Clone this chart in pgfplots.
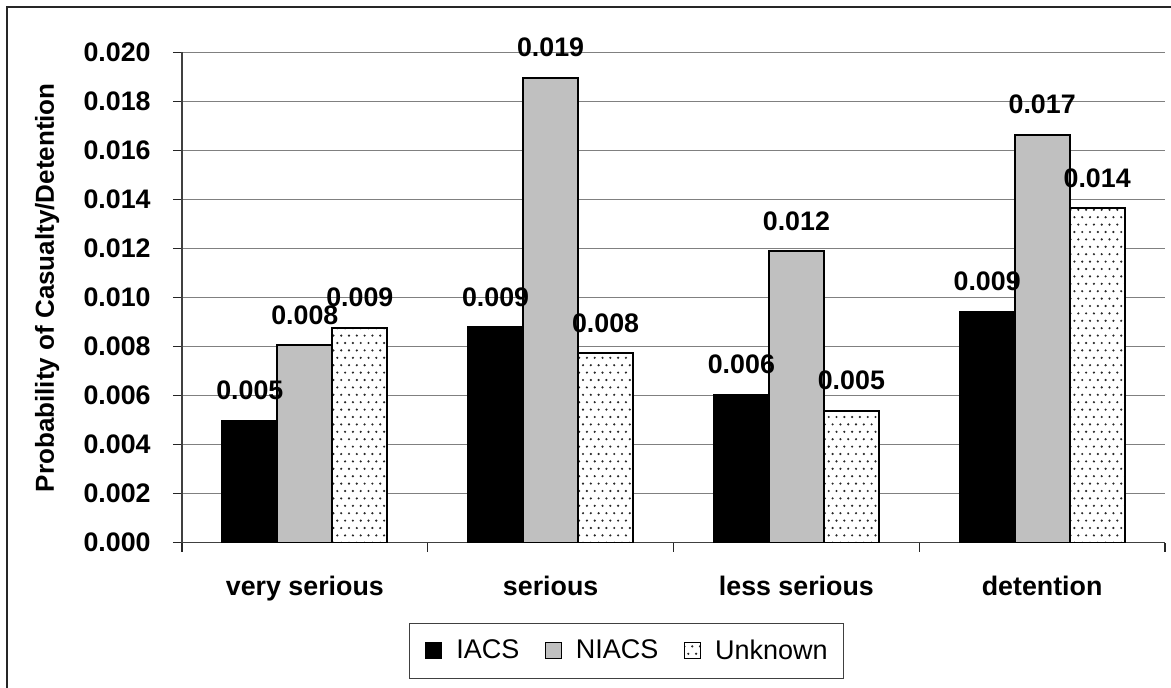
\documentclass[border=0pt]{standalone}
\usepackage{pgfplots}
\pgfplotsset{compat=1.18}
\usepackage{fontspec}
\setmainfont{Liberation Sans}
\usetikzlibrary{patterns}

% sparse staggered dot fill for the "Unknown" series
\pgfdeclarepatternformonly{sparsedots}{\pgfpoint{-0.5pt}{-0.5pt}}{\pgfpoint{4.4pt}{7.9pt}}{\pgfpoint{3.9pt}{7.4pt}}{%
  \pgfpathcircle{\pgfpoint{0.95pt}{1.8pt}}{0.6pt}%
  \pgfpathcircle{\pgfpoint{2.9pt}{5.5pt}}{0.6pt}%
  \pgfusepath{fill}%
}

\definecolor{niacsgray}{RGB}{192,192,192}
\newcommand{\lblfont}{\bfseries\fontsize{13.4}{15}\selectfont}

% probabilities per category: 0 very serious, 1 serious, 2 less serious, 3 detention
\pgfplotstableread{
x iacs    niacs   unknown
0 0.00498 0.00806 0.00876
1 0.00879 0.01896 0.00773
2 0.00603 0.01189 0.00538
3 0.00942 0.01663 0.01365
}\probdata

\begin{document}
\begin{tikzpicture}
\useasboundingbox (-91pt,-72.15pt) rectangle (494.5pt,271.35pt);
\draw[black!85, line width=0.6pt] (-87.5pt,267.85pt) rectangle (540pt,-120pt);
\begin{axis}[
  at={(0pt,0pt)}, anchor=south west,
  scale only axis, width=491.5pt, height=245.2pt,
  ybar, bar width=27.5pt,
  xmin=-0.5, xmax=3.5, ymin=0, ymax=0.020,
  xtick={0,1,2,3},
  xticklabels={very serious, serious, less serious, detention},
  minor xtick={-0.5,0.5,1.5,2.5,3.5},
  ytick={0,0.002,0.004,0.006,0.008,0.010,0.012,0.014,0.016,0.018,0.020},
  scaled y ticks=false,
  /pgf/number format/fixed, /pgf/number format/fixed zerofill,
  /pgf/number format/precision=3,
  /pgf/number format/assume math mode=true,
  ymajorgrids, major grid style={black!50, line width=0.5pt},
  axis x line*=bottom, axis y line*=left,
  axis line style={black!75, line width=0.6pt, -},
  tick align=outside,
  major tick length=4.5pt, minor tick length=4.5pt,
  every major x tick/.style={draw=none},
  tick style={black!85, line width=0.6pt},
  ticklabel style={font=\lblfont},
  yticklabel style={anchor=east, inner sep=0pt, xshift=-11pt},
  xticklabel style={anchor=base, inner sep=0pt, yshift=-22pt},
  ylabel={Probability of Casualty/Detention},
  ylabel style={font=\bfseries\fontsize{13}{15}\selectfont,
    at={(axis description cs:-0.1373,0.52)}, anchor=center},
  legend columns=3,
  legend image code/.code={\draw[#1, line width=0.5pt] (0pt,-3.6pt) rectangle (8pt,4.4pt);},
  legend style={at={(axis description cs:0.4522,-0.2208)}, anchor=center,
    draw=black!75, line width=0.5pt, fill=white,
    font=\fontsize{13.5}{15}\selectfont,
    inner xsep=8pt, inner ysep=8pt,
    nodes={inner sep=0pt},
    /tikz/every odd column/.append style={column sep=7pt},
    /tikz/every even column/.append style={column sep=12.8pt}},
  value label/.style={draw=none, fill=none, forget plot,
    nodes near coords,
    every node near coord/.append style={font=\lblfont, anchor=base,
      inner sep=0pt, yshift=10.5pt, black}},
]
% bars
\addplot[bar shift=-27.5pt, fill=black, draw=black, line width=0.9pt]
  table[x=x, y=iacs] {\probdata};
\addlegendentry{IACS}
\addplot[bar shift=0pt, fill=niacsgray, draw=black, line width=0.9pt]
  table[x=x, y=niacs] {\probdata};
\addlegendentry{NIACS}
\addplot[bar shift=27.5pt, fill=white, draw=black, line width=0.9pt,
  postaction={pattern=sparsedots, pattern color=black!85}]
  table[x=x, y=unknown] {\probdata};
\addlegendentry{Unknown}
% value labels, drawn after all bars so they stay on top
\addplot[bar shift=-27.5pt, value label] table[x=x, y=iacs] {\probdata};
\addplot[bar shift=0pt, value label] table[x=x, y=niacs] {\probdata};
\addplot[bar shift=27.5pt, value label] table[x=x, y=unknown] {\probdata};
\end{axis}
\end{tikzpicture}
\end{document}
